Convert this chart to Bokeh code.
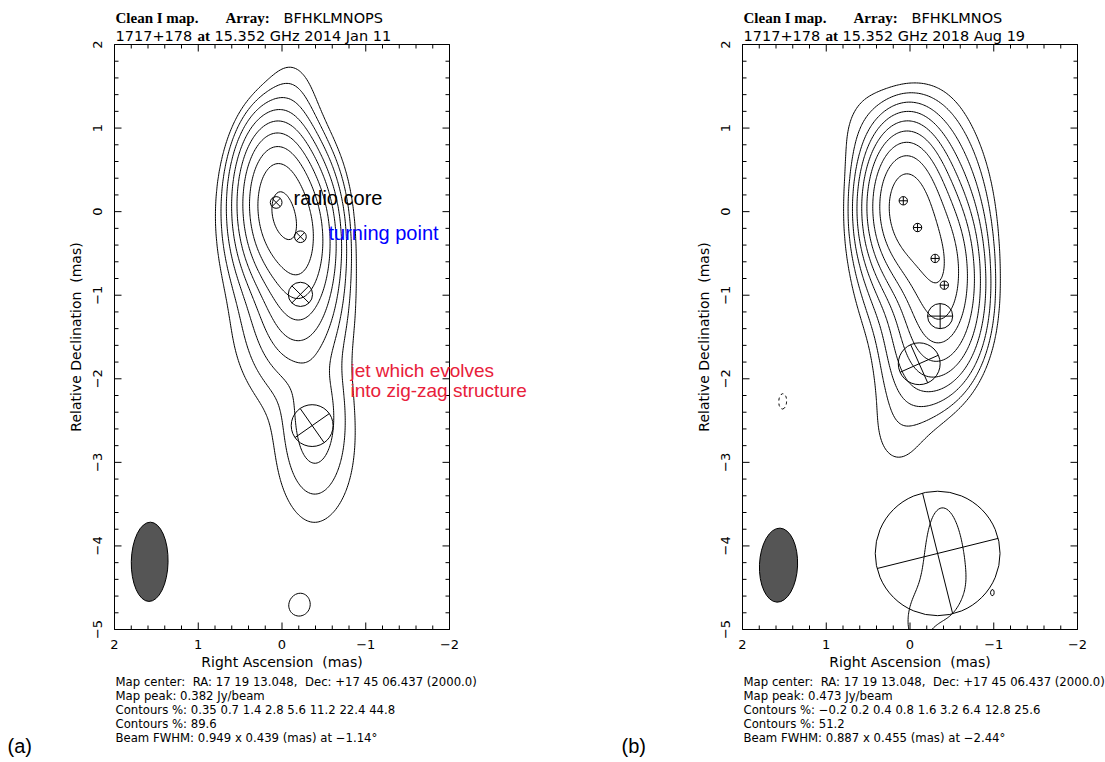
import numpy as np
from bokeh.plotting import figure
from bokeh.models import Range1d, Label
from bokeh.layouts import row
from bokeh.embed import file_html
from bokeh.resources import INLINE
from bokeh.core.properties import value

# ---------------------------------------------------------------- data
ra_ticks = [2, 1, 0, -1, -2]
dec_ticks = [2, 1, 0, -1, -2, -3, -4, -5]
minor_step = 0.2

source = "1717+178"
freq = "15.352 GHz"
map_center = "RA: 17 19 13.048,\u00a0 Dec: +17 45 06.437 (2000.0)"

# epoch 2014 Jan 11
a_date = "2014 Jan 11"
a_array = "BFHKLMNOPS"
a_peak = 0.382                      # Jy/beam
a_levels = [0.35, 0.7, 1.4, 2.8, 5.6, 11.2, 22.4, 44.8, 89.6]   # % of peak
a_beam = [0.949, 0.439, -1.14]      # major, minor (mas), PA (deg)
a_beam_pos = [1.58, -4.19]
# model-fit components: RA, Dec offsets (mas), FWHM (mas), PA of the cross (deg)
a_comp_ra = [0.07, -0.22, -0.22, -0.36]
a_comp_dec = [0.11, -0.30, -0.99, -2.56]
a_comp_size = [0.14, 0.14, 0.29, 0.50]
a_comp_pa = [45, 45, 45, 35]
# brightness model: peak (Jy/beam), RA, Dec, major, minor (mas), PA (deg)
a_src_peak = [0.30, 0.19, 0.025, 0.030, 0.0025, 0.0045, 0.0060, 0.0026, 0.00136]
a_src_ra = [0.05, -0.20, 0.0, -0.20, -0.10, -0.10, -0.40, -0.40, -0.20]
a_src_dec = [0.08, -0.32, -0.10, -0.99, 1.20, -1.45, -2.45, -2.90, -4.73]
a_src_maj = [0.30, 0.30, 0.90, 0.35, 0.30, 0.90, 0.45, 1.20, 0.85]
a_src_min = [0.10, 0.10, 0.60, 0.35, 0.20, 0.85, 0.15, 0.70, 0.00]
a_src_pa = [30, 30, 0, 0, 0, 0, 0, 0, 90]

# epoch 2018 Aug 19
b_date = "2018 Aug 19"
b_array = "BFHKLMNOS"
b_peak = 0.473
b_levels = [-0.2, 0.2, 0.4, 0.8, 1.6, 3.2, 6.4, 12.8, 25.6, 51.2]
b_beam = [0.887, 0.455, -2.44]
b_beam_pos = [1.57, -4.23]
b_comp_ra = [0.08, -0.09, -0.30, -0.41, -0.36, -0.11, -0.33]
b_comp_dec = [0.13, -0.19, -0.56, -0.88, -1.25, -1.82, -4.09]
b_comp_size = [0.10, 0.10, 0.10, 0.10, 0.30, 0.50, 1.49]
b_comp_pa = [0, 0, 0, 0, 0, 24, 14]
b_src_peak = [0.28, 0.20, 0.15, 0.07, 0.05, 0.03, 0.006, 0.0012, 0.0006, 0.0012,
              0.00171, 0.00102, 0.000926, -0.000975]
b_src_ra = [0.08, -0.09, -0.30, -0.41, -0.36, -0.15, -0.12, 0.15, -0.25, 0.50,
            -0.42, -0.07, -1.00, 1.52]
b_src_dec = [0.13, -0.19, -0.56, -0.88, -1.25, -0.30, -1.75, -2.60, 0.90, 0.95,
             -4.16, -4.91, -4.56, -2.27]
b_src_maj = [0.10, 0.10, 0.10, 0.10, 0.30, 1.25, 0.35, 0.50, 0.40, 0.40,
             0.98, 0.50, 0.0, 0.0]
b_src_min = [0.10, 0.10, 0.10, 0.10, 0.30, 0.63, 0.35, 0.40, 0.40, 0.40,
             0.0, 0.0, 0.0, 0.0]
b_src_pa = [0, 0, 0, 0, 0, 0, 0, 0, 0, 0, 6, 0, 0, 0]

# ---------------------------------------------------------------- layout
FRAME_W, FRAME_H, TOP, H = 335, 585, 44, 760
KX = FRAME_W / (max(ra_ticks) - min(ra_ticks))       # px per mas
KY = FRAME_H / (max(dec_ticks) - min(dec_ticks))
SANS = "DejaVu Sans"
SERIF = "Liberation Serif"
ARIAL = "Liberation Sans"


def gauss_cov(maj, mn, pa):
    s1, s2 = maj / 2.3548, mn / 2.3548
    t = np.radians(pa)
    u = np.array([np.sin(t), np.cos(t)])
    v = np.array([np.cos(t), -np.sin(t)])
    return s1 ** 2 * np.outer(u, u) + s2 ** 2 * np.outer(v, v)


def brightness(gx, gy, beam, peak, ra, dec, maj, mn, pa):
    X, Y = np.meshgrid(gx, gy)
    B = gauss_cov(*beam)
    img = np.zeros_like(X)
    for s, x0, y0, a, b, t in zip(peak, ra, dec, maj, mn, pa):
        Ci = np.linalg.inv(B + gauss_cov(a, b, t))
        dx, dy = X - x0, Y - y0
        q = Ci[0, 0] * dx * dx + 2 * Ci[0, 1] * dx * dy + Ci[1, 1] * dy * dy
        img += s * np.exp(-0.5 * q)
    return img


def contour_lines(gx, gy, z, level):
    """Marching squares, joined into polylines."""
    up = z > level
    hx = up[:, :-1] != up[:, 1:]
    vy = up[:-1, :] != up[1:, :]
    nbr = {}

    def link(a, b):
        nbr.setdefault(a, []).append(b)
        nbr.setdefault(b, []).append(a)

    cells = hx[:-1, :] | hx[1:, :] | vy[:, :-1] | vy[:, 1:]
    for i, j in zip(*np.nonzero(cells)):
        i, j = int(i), int(j)
        B, R, T, L = ("h", i, j), ("v", i, j + 1), ("h", i + 1, j), ("v", i, j)
        flags = [hx[i, j], vy[i, j + 1], hx[i + 1, j], vy[i, j]]
        edges = [k for k, f in zip((B, R, T, L), flags) if f]
        if len(edges) == 2:
            link(*edges)
        elif len(edges) == 4:
            centre = z[i:i + 2, j:j + 2].mean() > level
            if centre == up[i, j]:
                link(B, R)
                link(T, L)
            else:
                link(B, L)
                link(R, T)

    def point(k):
        kind, i, j = k
        if kind == "h":
            t = (level - z[i, j]) / (z[i, j + 1] - z[i, j])
            return gx[j] + t * (gx[j + 1] - gx[j]), gy[i]
        t = (level - z[i, j]) / (z[i + 1, j] - z[i, j])
        return gx[j], gy[i] + t * (gy[i + 1] - gy[i])

    seen = set()

    def walk(start):
        path, cur = [start], start
        seen.add(start)
        while True:
            nxt = [n for n in nbr[cur] if n not in seen]
            if not nxt:
                if start in nbr[cur] and len(path) > 2:
                    path.append(start)
                break
            cur = nxt[0]
            seen.add(cur)
            path.append(cur)
        return path

    paths = [walk(k) for k, v in list(nbr.items()) if len(v) == 1 and k not in seen]
    for k in list(nbr):
        if k not in seen:
            paths.append(walk(k))
    xs, ys = [], []
    for pth in paths:
        pts = [point(k) for k in pth]
        xs.append([float(p[0]) for p in pts])
        ys.append([float(p[1]) for p in pts])
    return xs, ys


def fmt(v):
    return f"{v:g}".replace("-", "\u2212")


def make_panel(left, width, date, array, peak, levels, beam, beam_pos, comp, src, tag):
    x_hi, x_lo = max(ra_ticks), min(ra_ticks)
    y_lo, y_hi = min(dec_ticks), max(dec_ticks)

    def X(px):
        return x_hi - (px - left) / KX

    def Y(py):
        return y_hi - (py - TOP) / KY

    p = figure(width=width, height=H,
               x_range=Range1d(X(0), X(width)), y_range=Range1d(Y(H), Y(0)),
               output_backend="svg", toolbar_location=None,
               x_axis_location=None, y_axis_location=None, min_border=0)
    p.grid.visible = False
    p.outline_line_color = None
    p.background_fill_color = "white"
    p.border_fill_color = "white"

    def put(px, py, text, size, font=SANS, color="black", style="normal",
            baseline="middle", align="left", angle=0.0):
        p.add_layout(Label(x=X(px), y=Y(py), text=text, text_font=font,
                           text_font_size=f"{size}px", text_color=color,
                           text_font_style=style, text_baseline=baseline,
                           text_align=align, angle=angle))

    # contour map, computed over the plotted box only
    gx = np.linspace(x_lo, x_hi, 201)
    gy = np.linspace(y_lo, y_hi, 351)
    img = brightness(gx, gy, beam, *src)
    for lev in levels:
        xs, ys = contour_lines(gx, gy, img, lev / 100 * peak)
        if xs:
            p.multi_line(xs=xs, ys=ys, line_color="black", line_width=1,
                         line_dash="solid" if lev > 0 else "3 3")

    # model-fit components
    cra, cdec, csize, cpa = comp
    p.ellipse(x=cra, y=cdec, width=csize, height=csize, fill_color=None,
              line_color="black", line_width=1)
    x0, y0, x1, y1 = [], [], [], []
    for x, y, d, t in zip(cra, cdec, csize, cpa):
        for ang in (t, t + 90):
            r = np.radians(ang)
            dx, dy = d / 2 * np.sin(r), d / 2 * np.cos(r)
            x0.append(x + dx); y0.append(y + dy); x1.append(x - dx); y1.append(y - dy)
    p.segment(x0=x0, y0=y0, x1=x1, y1=y1, line_color="black", line_width=1)

    # restoring beam
    p.ellipse(x=[beam_pos[0]], y=[beam_pos[1]], width=[beam[1]], height=[beam[0]],
              angle=[np.radians(beam[2])], fill_color="#555555", line_color="black",
              line_width=1)

    # box with inward ticks on all four sides
    p.quad(left=[x_hi], right=[x_lo], bottom=[y_lo], top=[y_hi], fill_color=None,
           line_color="black", line_width=1)
    tx0, ty0, tx1, ty1 = [], [], [], []
    xminor = np.round(np.arange(x_lo, x_hi + 1e-9, minor_step), 3)
    yminor = np.round(np.arange(y_lo, y_hi + 1e-9, minor_step), 3)
    for t in xminor:
        ln = (7 if np.isclose(t, np.round(t)) and round(t) in ra_ticks else 4) / KY
        tx0 += [t, t]; tx1 += [t, t]
        ty0 += [y_lo, y_hi]; ty1 += [y_lo + ln, y_hi - ln]
    for t in yminor:
        ln = (7 if np.isclose(t, np.round(t)) and round(t) in dec_ticks else 4) / KX
        ty0 += [t, t]; ty1 += [t, t]
        tx0 += [x_hi, x_lo]; tx1 += [x_hi - ln, x_lo + ln]
    p.segment(x0=tx0, y0=ty0, x1=tx1, y1=ty1, line_color="black", line_width=1)

    # tick labels
    p.text(x=ra_ticks, y=[Y(TOP + FRAME_H + 15)] * len(ra_ticks),
           text=[fmt(t) for t in ra_ticks], text_font=value(SANS),
           text_font_size="13px", text_align="center", text_baseline="middle",
           text_color="black")
    p.text(x=[X(left - 17)] * len(dec_ticks), y=dec_ticks,
           text=[fmt(t) for t in dec_ticks], text_font=value(SANS),
           text_font_size="13px", text_align="center", text_baseline="middle",
           angle=np.pi / 2, text_color="black")
    put(left + FRAME_W / 2, 661, "Right Ascension \u00a0(mas)", 14, align="center")
    put(left - 39, TOP + FRAME_H / 2, "Relative Declination \u00a0(mas)", 14,
        align="center", angle=np.pi / 2)

    # header
    put(left + 1, 17, "Clean I map.", 15, SERIF, style="bold", baseline="alphabetic")
    put(left + 111, 17, "Array:", 15, SERIF, style="bold", baseline="alphabetic")
    put(left + 169, 17, array, 14.5, SANS, baseline="alphabetic")
    put(left + 1, 35, source, 14.5, SANS, baseline="alphabetic")
    put(left + 83, 35, "at", 15, SERIF, style="bold", baseline="alphabetic")
    put(left + 100, 35, f"{freq} {date}", 14.5, SANS, baseline="alphabetic")

    # footer
    info = [
        f"Map center: \u00a0{map_center}",
        f"Map peak: {peak:.3f} Jy/beam",
        "Contours %: " + " ".join(fmt(v) for v in levels[:-1]),
        "Contours %: " + fmt(levels[-1]),
        f"Beam FWHM: {beam[0]:.3f} x {beam[1]:.3f} (mas) at {fmt(beam[2])}\u00b0",
    ]
    for k, line in enumerate(info):
        put(left + 1, 681 + 14.2 * k, line, 11.7)
    put(7 if tag == "(a)" else 69, 745, tag, 20, ARIAL)
    return p, put


pa, put_a = make_panel(114, 552, a_date, a_array, a_peak, a_levels, a_beam, a_beam_pos,
                       (a_comp_ra, a_comp_dec, a_comp_size, a_comp_pa),
                       (a_src_peak, a_src_ra, a_src_dec, a_src_maj, a_src_min, a_src_pa), "(a)")
put_a(293, 197, "radio core", 20, ARIAL)
put_a(328, 232, "turning point", 20, ARIAL, color="#0000ff")
put_a(350, 370, "jet which evolves", 19, ARIAL, color="#e8203a")
put_a(350, 390, "into zig-zag structure", 19, ARIAL, color="#e8203a")

pb, _ = make_panel(190, 553, b_date, b_array, b_peak, b_levels, b_beam, b_beam_pos,
                   (b_comp_ra, b_comp_dec, b_comp_size, b_comp_pa),
                   (b_src_peak, b_src_ra, b_src_dec, b_src_maj, b_src_min, b_src_pa), "(b)")

layout = row(pa, pb)
open("out.html", "w").write(file_html(layout, INLINE))
